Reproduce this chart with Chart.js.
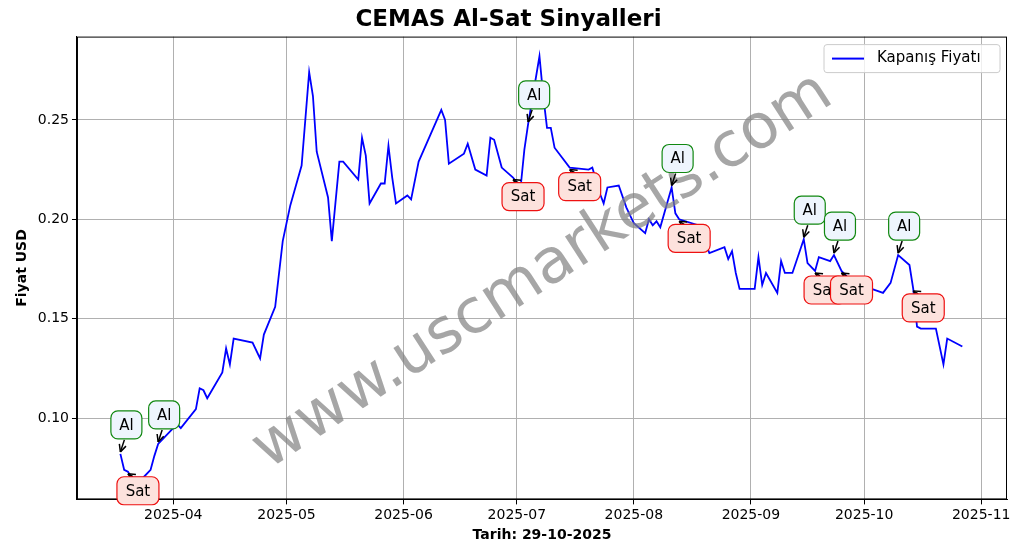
<!DOCTYPE html>
<html><head><meta charset="utf-8">
<script src="https://cdn.jsdelivr.net/npm/chart.js@4"></script>
<style>html,body{margin:0;padding:0;background:#fff}#w{width:1029px;height:554px}</style>
</head><body><div id="w"><canvas id="c"></canvas></div>
<script>
const dates = ["2025-03-18","2025-03-19","2025-03-20","2025-03-21","2025-03-24","2025-03-26","2025-03-27","2025-03-28","2025-04-02","2025-04-03","2025-04-07","2025-04-08","2025-04-09","2025-04-10","2025-04-14","2025-04-15","2025-04-16","2025-04-17","2025-04-22","2025-04-24","2025-04-25","2025-04-28","2025-04-30","2025-05-02","2025-05-05","2025-05-07","2025-05-08","2025-05-09","2025-05-12","2025-05-13","2025-05-15","2025-05-16","2025-05-20","2025-05-21","2025-05-22","2025-05-23","2025-05-26","2025-05-27","2025-05-28","2025-05-29","2025-05-30","2025-06-02","2025-06-03","2025-06-05","2025-06-11","2025-06-12","2025-06-13","2025-06-17","2025-06-18","2025-06-20","2025-06-23","2025-06-24","2025-06-25","2025-06-27","2025-06-30","2025-07-02","2025-07-03","2025-07-04","2025-07-07","2025-07-08","2025-07-09","2025-07-10","2025-07-11","2025-07-15","2025-07-20","2025-07-21","2025-07-23","2025-07-24","2025-07-25","2025-07-28","2025-07-30","2025-07-31","2025-08-01","2025-08-04","2025-08-05","2025-08-06","2025-08-07","2025-08-08","2025-08-11","2025-08-12","2025-08-13","2025-08-18","2025-08-20","2025-08-21","2025-08-25","2025-08-26","2025-08-27","2025-08-28","2025-08-29","2025-09-02","2025-09-03","2025-09-04","2025-09-05","2025-09-08","2025-09-09","2025-09-10","2025-09-12","2025-09-15","2025-09-16","2025-09-18","2025-09-19","2025-09-22","2025-09-23","2025-09-25","2025-09-29","2025-10-03","2025-10-06","2025-10-08","2025-10-10","2025-10-13","2025-10-14","2025-10-15","2025-10-16","2025-10-20","2025-10-22","2025-10-23","2025-10-27"];
const prices = [0.082,0.074,0.073,0.070,0.070,0.074,0.081,0.087,0.097,0.095,0.1045,0.115,0.114,0.110,0.123,0.135,0.127,0.140,0.138,0.130,0.142,0.156,0.189,0.207,0.227,0.274,0.262,0.234,0.211,0.189,0.229,0.229,0.220,0.241,0.232,0.208,0.218,0.218,0.237,0.221,0.208,0.212,0.210,0.229,0.255,0.250,0.228,0.233,0.238,0.225,0.222,0.241,0.240,0.226,0.221,0.216,0.235,0.248,0.282,0.262,0.246,0.246,0.236,0.226,0.225,0.226,0.213,0.208,0.216,0.217,0.206,0.202,0.198,0.193,0.200,0.197,0.199,0.196,0.216,0.203,0.200,0.197,0.188,0.183,0.186,0.180,0.184,0.173,0.165,0.165,0.181,0.167,0.173,0.163,0.179,0.173,0.173,0.190,0.178,0.174,0.181,0.179,0.182,0.174,0.166,0.165,0.163,0.168,0.182,0.177,0.165,0.146,0.145,0.145,0.127,0.140,0.136];
const buyDates = ["2025-03-18","2025-03-28","2025-07-04","2025-08-11","2025-09-15","2025-09-23","2025-10-10"];
const sellDates = ["2025-03-20","2025-06-30","2025-07-15","2025-08-13","2025-09-18","2025-09-25","2025-10-14"];
const tickLabels = ["2025-04","2025-05","2025-06","2025-07","2025-08","2025-09","2025-10","2025-11"];
const yTicks = [0.10,0.15,0.20,0.25];

const ts = d => Date.parse(d + "T00:00:00Z");
const pts = dates.map((d,i)=>({x:ts(d), y:prices[i]}));
const priceAt = d => prices[dates.indexOf(d)];
const F = "'DejaVu Sans', sans-serif";

const overlay = {
  id:'overlay',
  afterDatasetsDraw(chart){
    const {ctx, scales:{x,y}, chartArea:a} = chart;
    ctx.save();
    ctx.strokeStyle="#000"; ctx.lineWidth=1;
    ctx.strokeRect(a.left+0.5,a.top+0.5,a.right-a.left-1,a.bottom-a.top-1);
    ctx.save();
    ctx.translate(543,272);
    ctx.rotate(-33*Math.PI/180);
    ctx.font = "62px " + F;
    ctx.fillStyle = "rgba(128,128,128,0.7)";
    ctx.textAlign="center"; ctx.textBaseline="middle";
    ctx.fillText("www.uscmarkets.com",0,0);
    ctx.restore();
    const box = (cx,cy,w,h,fill,stroke,text)=>{
      ctx.beginPath(); ctx.roundRect(cx-w/2,cy-h/2,w,h,7);
      ctx.fillStyle=fill; ctx.fill(); ctx.lineWidth=1.2; ctx.strokeStyle=stroke; ctx.stroke();
      ctx.fillStyle="#000"; ctx.font="15px "+F; ctx.textAlign="center"; ctx.textBaseline="middle";
      ctx.fillText(text,cx,cy+1);
    };
    const arrow = (x1,y1,x2,y2)=>{
      ctx.strokeStyle="#000"; ctx.lineWidth=1.5;
      ctx.beginPath(); ctx.moveTo(x1,y1); ctx.lineTo(x2,y2); ctx.stroke();
      const ang=Math.atan2(y2-y1,x2-x1), L=8;
      ctx.beginPath(); ctx.moveTo(x2,y2);
      ctx.lineTo(x2-L*Math.cos(ang-0.45),y2-L*Math.sin(ang-0.45));
      ctx.moveTo(x2,y2);
      ctx.lineTo(x2-L*Math.cos(ang+0.45),y2-L*Math.sin(ang+0.45));
      ctx.stroke();
    };
    buyDates.forEach(d=>{
      const px=x.getPixelForValue(ts(d)), py=y.getPixelForValue(priceAt(d));
      arrow(px+4,py-14,px,py-2);
      box(px+6,py-29,31,28,"#eef5fd","#118811","Al");
    });
    sellDates.forEach(d=>{
      const px=x.getPixelForValue(ts(d)), py=y.getPixelForValue(priceAt(d));
      arrow(px+5,py+5,px,py+2);
      box(px+10,py+19,42,28,"#fde2dd","#ee1111","Sat");
    });
    const lx=a.right-183, ly=a.top+8;
    ctx.beginPath(); ctx.roundRect(lx,ly,176,28,3);
    ctx.fillStyle="rgba(255,255,255,0.8)"; ctx.fill();
    ctx.strokeStyle="#cccccc"; ctx.lineWidth=1; ctx.stroke();
    ctx.strokeStyle="#0000ff"; ctx.lineWidth=2;
    ctx.beginPath(); ctx.moveTo(lx+8,ly+14); ctx.lineTo(lx+40,ly+14); ctx.stroke();
    ctx.fillStyle="#000"; ctx.font="15px "+F; ctx.textAlign="left"; ctx.textBaseline="middle";
    ctx.fillText(chart.data.datasets[0].label,lx+53,ly+14);
    ctx.restore();
  }
};

new Chart(document.getElementById('c'),{
  type:'line',
  data:{datasets:[{label:'Kapanış Fiyatı',data:pts,borderColor:'#0000ff',backgroundColor:'#0000ff',borderWidth:1.8,pointRadius:0,tension:0}]},
  options:{
    responsive:true,maintainAspectRatio:false,animation:false,
    layout:{padding:{left:10,right:22,top:4,bottom:6}},
    plugins:{
      title:{display:true,text:'CEMAS Al-Sat Sinyalleri',font:{family:F,size:23,weight:'bold'},color:'#000',padding:{top:2,bottom:3}},
      legend:{display:false},
      tooltip:{enabled:false}
    },
    scales:{
      x:{type:'linear',min:ts("2025-03-06")+12*3600e3,max:ts("2025-11-07")+20*3600e3,
        afterBuildTicks(ax){ax.ticks=tickLabels.map(t=>({value:ts(t+"-01")}));},
        ticks:{callback:(v)=>{const d=new Date(v);return d.getUTCFullYear()+"-"+String(d.getUTCMonth()+1).padStart(2,'0');},font:{family:F,size:14},color:'#000',maxRotation:0,autoSkip:false},
        grid:{color:'#b0b0b0',drawTicks:true,tickLength:5,tickColor:'#000'},border:{color:'#000'},
        title:{display:true,text:'Tarih: 29-10-2025',font:{family:F,size:14,weight:'bold'},color:'#000',padding:{top:0}}},
      y:{min:0.0591,max:0.2919,
        afterBuildTicks(ax){ax.ticks=yTicks.map(v=>({value:v}));},
        ticks:{callback:v=>v.toFixed(2),font:{family:F,size:14},color:'#000'},
        grid:{color:'#b0b0b0',tickLength:5,tickColor:'#000'},border:{color:'#000'},
        title:{display:true,text:'Fiyat USD',font:{family:F,size:14,weight:'bold'},color:'#000'}}
    }
  },
  plugins:[overlay]
});
</script></body></html>
